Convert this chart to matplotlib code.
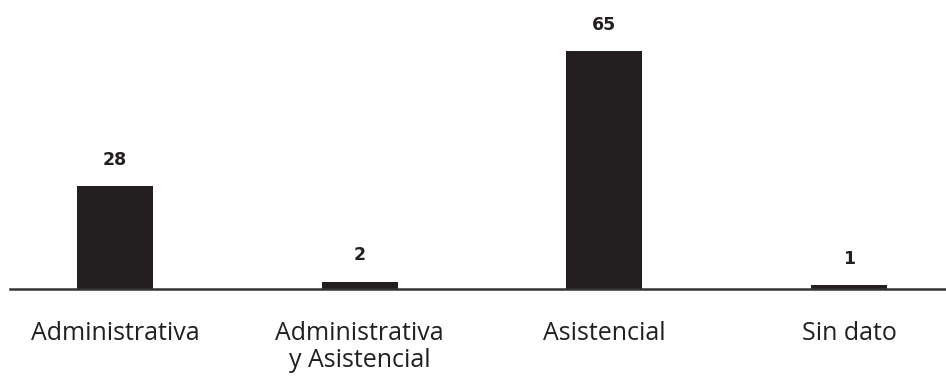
import matplotlib.pyplot as plt

categories = ['Administrativa', 'Administrativa\ny Asistencial', 'Asistencial', 'Sin dato']
values = [28, 2, 65, 1]

BAR_COLOR = '#231f20'

fig = plt.figure(figsize=(9.46, 3.76), dpi=100)
ax = fig.add_axes([10 / 946, 87 / 376, 936 / 946, 289 / 376])

x = list(range(len(categories)))
bars = ax.bar(x, values, width=0.31, color=BAR_COLOR)

for bar, v in zip(bars, values):
    ax.annotate(str(v), (bar.get_x() + bar.get_width() / 2, bar.get_height()),
                xytext=(0, 19), textcoords='offset points',
                ha='center', va='center', fontsize=12.5, fontweight='bold',
                color=BAR_COLOR)

ax.set_xlim(-0.429, 3.396)
ax.set_ylim(0, 78.9)

for side in ['top', 'right', 'left']:
    ax.spines[side].set_visible(False)
ax.spines['bottom'].set_color('#333333')
ax.spines['bottom'].set_linewidth(1.8)

ax.set_yticks([])
ax.set_xticks(x)
ax.set_xticklabels(categories, fontsize=18, family='Open Sans', color=BAR_COLOR,
                   linespacing=1.12)
ax.tick_params(axis='x', length=0, pad=23)

fig.savefig('out.png', dpi=100)
